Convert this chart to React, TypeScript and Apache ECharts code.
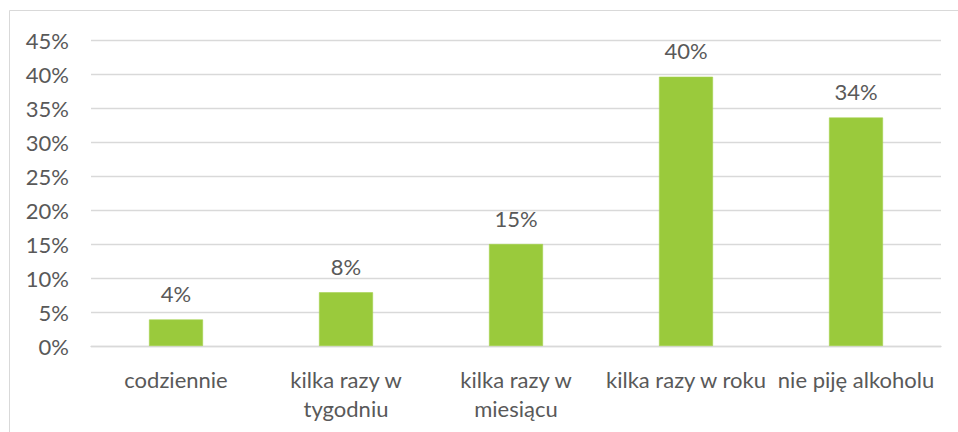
import React, { useEffect, useRef } from "react";
import * as echarts from "echarts";

const categories = [
  "codziennie",
  "kilka razy w\ntygodniu",
  "kilka razy w\nmiesiącu",
  "kilka razy w roku",
  "nie piję alkoholu",
];
const values = [3.9, 7.9, 15.0, 39.6, 33.6];
const yTicks = { min: 0, max: 45, interval: 5 };

const TEXT = "#595959";
const FONT = "Lato";

export default function App() {
  const ref = useRef<HTMLDivElement>(null);
  useEffect(() => {
    if (!ref.current) return;
    const chart = echarts.init(ref.current, null, { renderer: "svg" });
    chart.setOption({
      animation: false,
      backgroundColor: "#ffffff",
      graphic: [
        {
          type: "rect",
          shape: { x: 9.5, y: 10.5, width: 1200, height: 1000 },
          style: { fill: "none", stroke: "#d9d9d9", lineWidth: 1 },
          silent: true,
        },
      ],
      grid: { left: 91, right: 17, top: 40, bottom: 86, containLabel: false },
      xAxis: {
        type: "category",
        data: categories,
        axisLine: { show: true, lineStyle: { color: "#d9d9d9", width: 1.3 } },
        axisTick: { show: false },
        axisLabel: {
          color: TEXT,
          fontFamily: FONT,
          fontSize: 22,
          margin: 19,
          lineHeight: 29,
          interval: 0,
        },
      },
      yAxis: {
        type: "value",
        min: yTicks.min,
        max: yTicks.max,
        interval: yTicks.interval,
        axisLine: { show: false },
        axisTick: { show: false },
        splitLine: { lineStyle: { color: "#d9d9d9", width: 1.3 } },
        axisLabel: {
          color: TEXT,
          fontFamily: FONT,
          fontSize: 22,
          margin: 22,
          formatter: (v: number) => `${v}%`,
        },
      },
      series: [
        {
          type: "bar",
          data: values,
          barWidth: 54,
          itemStyle: { color: "#9aca3c", borderColor: "#a4d14e", borderWidth: 0.6 },
          label: {
            show: true,
            position: "top",
            distance: 15,
            color: TEXT,
            fontFamily: FONT,
            fontSize: 22,
            formatter: (p: any) => `${Math.round(p.value)}%`,
          },
        },
      ],
    });
    return () => chart.dispose();
  }, []);
  return (
    <div
      ref={ref}
      style={{ position: "fixed", left: 0, top: 0, width: 958, height: 432 }}
    />
  );
}
